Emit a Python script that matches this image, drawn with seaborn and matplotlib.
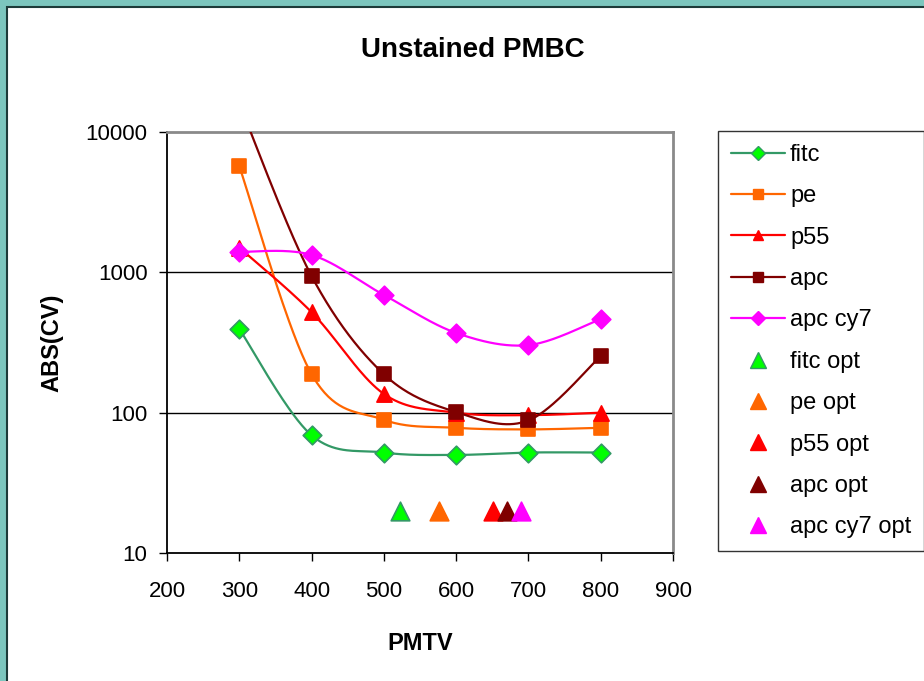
import numpy as np
import pandas as pd
import matplotlib
matplotlib.use('Agg')
import matplotlib.pyplot as plt
from matplotlib.lines import Line2D
from matplotlib.patches import Rectangle
import seaborn as sns

# datos (PMTV vs ABS(CV))
pmtv = [300, 400, 500, 600, 700, 800]
fitc = [395, 69, 52, 50, 52, 52]
pe = [5700, 188, 89, 78, 76, 78]
p55 = [1500, 520, 136, 100, 96, 100]
apc = [16000, 940, 188, 101, 88, 253]
apc_cy7 = [1400, 1330, 690, 370, 303, 465]

series_names = ['fitc', 'pe', 'p55', 'apc', 'apc cy7']
series_values = [fitc, pe, p55, apc, apc_cy7]

opt_names = ['fitc opt', 'pe opt', 'p55 opt', 'apc opt', 'apc cy7 opt']
opt_pmtv = [522, 576, 651, 670, 690]
opt_cv = [20, 20, 20, 20, 20]

x_ticks = [200, 300, 400, 500, 600, 700, 800, 900]
y_ticks = [10, 100, 1000, 10000]

# estilos
line_colors = ['#339966', '#ff6600', '#ff0000', '#800000', '#ff00ff']
marker_faces = ['#00ff00', '#ff6600', '#ff0000', '#800000', '#ff00ff']
marker_edges = ['#339966', '#ff6600', '#ff0000', '#800000', '#ff00ff']
markers = ['D', 's', '^', 's', 'D']
opt_faces = ['#00ff00', '#ff6600', '#ff0000', '#800000', '#ff00ff']
opt_edges = ['#339966', '#ff6600', '#ff0000', '#800000', '#ff00ff']


def suavizar(x, y, n=40):
    """Curva suavizada tipo Excel (Bezier / Catmull-Rom) en espacio log."""
    x = np.asarray(x, float)
    ly = np.log10(np.asarray(y, float))
    px = np.concatenate([[x[0]], x, [x[-1]]])
    py = np.concatenate([[ly[0]], ly, [ly[-1]]])
    t = np.linspace(0, 1, n)
    xs, ys = [], []
    for i in range(1, len(px) - 2):
        p0 = np.array([px[i - 1], py[i - 1]])
        p1 = np.array([px[i], py[i]])
        p2 = np.array([px[i + 1], py[i + 1]])
        p3 = np.array([px[i + 2], py[i + 2]])
        c1 = p1 + (p2 - p0) / 6
        c2 = p2 - (p3 - p1) / 6
        b = ((1 - t) ** 3)[:, None] * p1 + (3 * (1 - t) ** 2 * t)[:, None] * c1 \
            + (3 * (1 - t) * t ** 2)[:, None] * c2 + (t ** 3)[:, None] * p2
        xs.extend(b[:, 0])
        ys.extend(b[:, 1])
    return np.array(xs), 10 ** np.array(ys)


sns.set_theme(style='white')
plt.rcParams['font.family'] = ['Liberation Sans', 'DejaVu Sans']
plt.rcParams['text.color'] = 'black'
plt.rcParams['axes.labelcolor'] = 'black'

fig = plt.figure(figsize=(9.24, 6.81), dpi=100, facecolor='#7cc6be')
fig.patches.append(Rectangle((7 / 924, -0.01), 1.0, 1 - 7 / 681 + 0.01,
                             transform=fig.transFigure, facecolor='white',
                             edgecolor='#1d3b39', lw=1.5, zorder=-1))

ax = fig.add_axes([167 / 924, 1 - 553 / 681, (673 - 167) / 924, (553 - 132) / 681])
ax.set_facecolor('white')
ax.set_yscale('log')

for name, vals, lc, mf, me, m in zip(series_names, series_values, line_colors,
                                     marker_faces, marker_edges, markers):
    xs, ys = suavizar(pmtv, vals)
    sns.lineplot(x=xs, y=ys, sort=False, estimator=None, color=lc, lw=1.6,
                 ax=ax, legend=False, zorder=3)
    size = 120 if m == '^' else 90
    sns.scatterplot(x=pmtv, y=vals, marker=m, s=size, color=mf, edgecolor=me,
                    linewidth=1.2, ax=ax, legend=False, zorder=4, clip_on=True)

for name, xv, yv, fc, ec in zip(opt_names, opt_pmtv, opt_cv, opt_faces, opt_edges):
    sns.scatterplot(x=[xv], y=[yv], marker='^', s=180, color=fc, edgecolor=ec,
                    linewidth=1.2, ax=ax, legend=False, zorder=4)

ax.set_xlim(200, 900)
ax.set_ylim(10, 10000)
ax.set_xticks(x_ticks)
ax.set_xticklabels([str(v) for v in x_ticks])
ax.set_yticks(y_ticks)
ax.set_yticklabels([str(v) for v in y_ticks])
ax.yaxis.set_minor_locator(matplotlib.ticker.NullLocator())

ax.grid(False)
for v in [100, 1000]:
    ax.axhline(v, color='black', lw=1.0, zorder=1)

for s in ['left', 'bottom']:
    ax.spines[s].set_color('black')
    ax.spines[s].set_linewidth(1.3)
for s in ['top', 'right']:
    ax.spines[s].set_color('#8a8a8a')
    ax.spines[s].set_linewidth(2.0)

ax.tick_params(axis='both', which='major', direction='out', length=6, width=1.0,
               color='black', labelsize=16, labelcolor='black')
ax.tick_params(axis='x', pad=14)
ax.tick_params(axis='y', pad=8)
ax.xaxis.set_ticks_position('bottom')
ax.yaxis.set_ticks_position('left')

ax.set_xlabel('PMTV', fontsize=17, fontweight='bold', labelpad=22)
ax.set_ylabel('ABS(CV)', fontsize=17, fontweight='bold', labelpad=16)
fig.text(473 / 924, 1 - 50 / 681, 'Unstained PMBC', ha='center', va='center',
         fontsize=20, fontweight='bold')

handles = []
for lc, mf, me, m in zip(line_colors, marker_faces, marker_edges, markers):
    handles.append(Line2D([], [], color=lc, lw=1.6, marker=m, markersize=7,
                          markerfacecolor=mf, markeredgecolor=me))
for fc, ec in zip(opt_faces, opt_edges):
    handles.append(Line2D([], [], linestyle='none', marker='^', markersize=12,
                          markerfacecolor=fc, markeredgecolor=ec))

leg = fig.legend(handles, series_names + opt_names, loc='upper left',
                 bbox_to_anchor=(718 / 924, 1 - 131 / 681),
                 bbox_transform=fig.transFigure, borderaxespad=0,
                 fontsize=17, frameon=True, fancybox=False, edgecolor='black',
                 handlelength=2.3, handletextpad=0.2, labelspacing=0.82,
                 borderpad=0.55)
leg.get_frame().set_linewidth(1.0)

fig.savefig('out.png', dpi=100, facecolor=fig.get_facecolor())
